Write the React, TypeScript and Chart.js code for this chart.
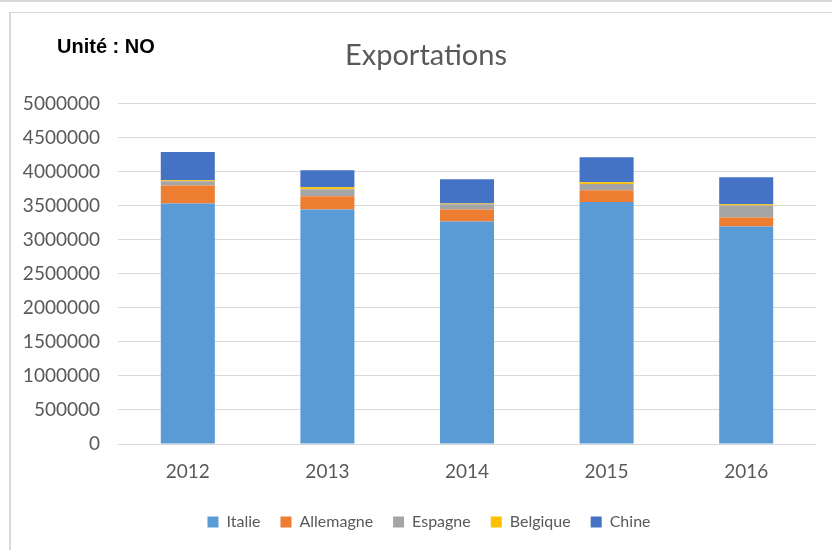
import React, { useEffect, useRef } from "react";
import { Chart, registerables } from "chart.js";

Chart.register(...registerables);

const years = ["2012", "2013", "2014", "2015", "2016"];
const italie = [3535000, 3447000, 3269000, 3555000, 3195000];
const allemagne = [265000, 196000, 178000, 173000, 133000];
const espagne = [61000, 100000, 78000, 93000, 178000];
const belgique = [15000, 29000, 10000, 25000, 19000];
const chine = [415000, 252000, 356000, 370000, 395000];

const seriesNames = ["Italie", "Allemagne", "Espagne", "Belgique", "Chine"];
const seriesColors = ["#5B9BD5", "#ED7D31", "#A5A5A5", "#FFC000", "#4472C4"];

const shiftBoxes = {
  id: "shiftBoxes",
  afterLayout(chart: any) {
    const t = chart.titleBlock;
    if (t) {
      t.left += 8;
      t.right += 8;
    }
    const l = chart.legend;
    if (l) {
      l.left += 11;
      l.right += 11;
    }
  },
};

export default function App() {
  const ref = useRef<HTMLCanvasElement | null>(null);

  useEffect(() => {
    if (!ref.current) return;
    const values = [italie, allemagne, espagne, belgique, chine];
    const chart = new Chart(ref.current, {
      type: "bar",
      data: {
        labels: years,
        datasets: values.map((v, i) => ({
          label: seriesNames[i],
          data: v,
          backgroundColor: seriesColors[i],
          borderWidth: 0,
          barPercentage: 0.387,
          categoryPercentage: 1,
        })),
      },
      plugins: [shiftBoxes],
      options: {
        animation: false,
        responsive: false,
        maintainAspectRatio: false,
        layout: { padding: { left: 20, right: 16, top: 0, bottom: 10 } },
        plugins: {
          title: {
            display: true,
            text: "Exportations",
            color: "#595959",
            font: { family: "Lato", size: 29, weight: "normal" },
            padding: { top: 38, bottom: 31 },
          },
          legend: {
            position: "bottom",
            labels: {
              color: "#595959",
              font: { family: "Lato", size: 16 },
              boxWidth: 11,
              boxHeight: 11,
              padding: 20,
            },
          },
          tooltip: { enabled: false },
        },
        scales: {
          x: {
            stacked: true,
            grid: { display: false, drawTicks: false },
            border: { display: false },
            ticks: {
              color: "#595959",
              font: { family: "Lato", size: 19 },
              padding: 16,
            },
            afterFit: (s: any) => {
              s.height = 50;
            },
          },
          y: {
            stacked: true,
            min: 0,
            max: 5000000,
            grid: { color: "#D9D9D9", lineWidth: 1, drawTicks: false },
            border: { display: false },
            ticks: {
              stepSize: 500000,
              color: "#595959",
              font: { family: "Lato", size: 19 },
              padding: 18,
              callback: (v: any) => String(v),
            },
            afterFit: (s: any) => {
              s.width = 98;
            },
          },
        },
      },
    });
    return () => chart.destroy();
  }, []);

  return (
    <div
      style={{
        position: "absolute",
        left: 0,
        top: 0,
        width: 832,
        height: 550,
        background: "#ffffff",
        overflow: "hidden",
      }}
    >
      <div
        style={{
          position: "absolute",
          left: 0,
          top: 0,
          width: 832,
          height: 2,
          background: "#D9D9D9",
        }}
      />
      <div
        style={{
          position: "absolute",
          left: 9,
          top: 12,
          width: 840,
          height: 560,
          borderLeft: "2px solid #D9D9D9",
          borderTop: "1px solid #D9D9D9",
        }}
      />
      <canvas
        ref={ref}
        width={832}
        height={550}
        style={{ position: "absolute", left: 0, top: 0, width: 832, height: 550 }}
      />
      <div
        style={{
          position: "absolute",
          left: 57,
          top: 36,
          fontFamily: "'Liberation Sans', Arial, sans-serif",
          fontWeight: "bold",
          fontSize: 20,
          lineHeight: "20px",
          color: "#000000",
          whiteSpace: "nowrap",
        }}
      >
        Unité : NO
      </div>
    </div>
  );
}
